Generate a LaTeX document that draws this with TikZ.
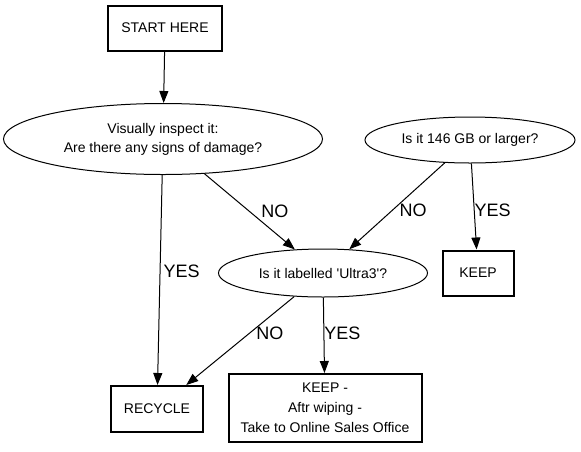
\documentclass[tikz,border=0pt]{standalone}
\usepackage{fontspec}
\setmainfont{Liberation Sans}
\usetikzlibrary{shapes.geometric,arrows.meta,positioning}

\begin{document}
\begin{tikzpicture}[
    x=1pt, y=-1pt,
    box/.style={rectangle, draw, line width=2pt, inner sep=0pt, align=center, font=\fontsize{14}{20}\selectfont},
    question/.style={ellipse, draw, line width=1pt, inner sep=0pt, align=center, font=\fontsize{14}{19}\selectfont},
    flow/.style={-{Triangle[length=12pt,width=9pt]}, line width=1pt},
    answer/.style={inner sep=0pt, font=\fontsize{18}{20}\selectfont}
]
\useasboundingbox (0,0) rectangle (581,451);

% Start
\node[box, minimum width=114pt, minimum height=45pt] (start) at (165,28) {START HERE};

% Questions
\node[question, minimum width=319pt, minimum height=71pt] (inspect) at (163,139) {Visually inspect it:\\Are there any signs of damage?};
\node[question, minimum width=210pt, minimum height=46pt] (size) at (470,140) {Is it 146 GB or larger?};
\node[question, minimum width=209pt, minimum height=48pt] (ultra) at (323,273) {Is it labelled {\textquotesingle}Ultra3{\textquotesingle}?};

% Outcomes
\node[box, minimum width=71pt, minimum height=45pt] (keep) at (478,273) {KEEP};
\node[box, minimum width=92pt, minimum height=46pt] (recycle) at (157,409) {RECYCLE};
\node[box, minimum width=193pt, minimum height=68pt] (wipe) at (325,408) {KEEP -\\Aftr wiping -\\Take to Online Sales Office};

% Connectors
\draw[flow] (start) -- (inspect);
\draw[flow] (inspect) -- node[answer, pos=.46, right=3pt] {YES} (recycle);
\draw[flow] (inspect) -- node[answer, pos=.49, right=12pt] {NO} (ultra);
\draw[flow] (size) -- node[answer, pos=.55, right=7pt] {NO} (ultra);
\draw[flow] (size) -- node[answer, pos=.54, right=0pt] {YES} (keep);
\draw[flow] (ultra) -- node[answer, pos=.42, right=7pt] {NO} (recycle);
\draw[flow] (ultra) -- node[answer, pos=.47, right=0pt] {YES} (wipe);

\end{tikzpicture}
\end{document}
